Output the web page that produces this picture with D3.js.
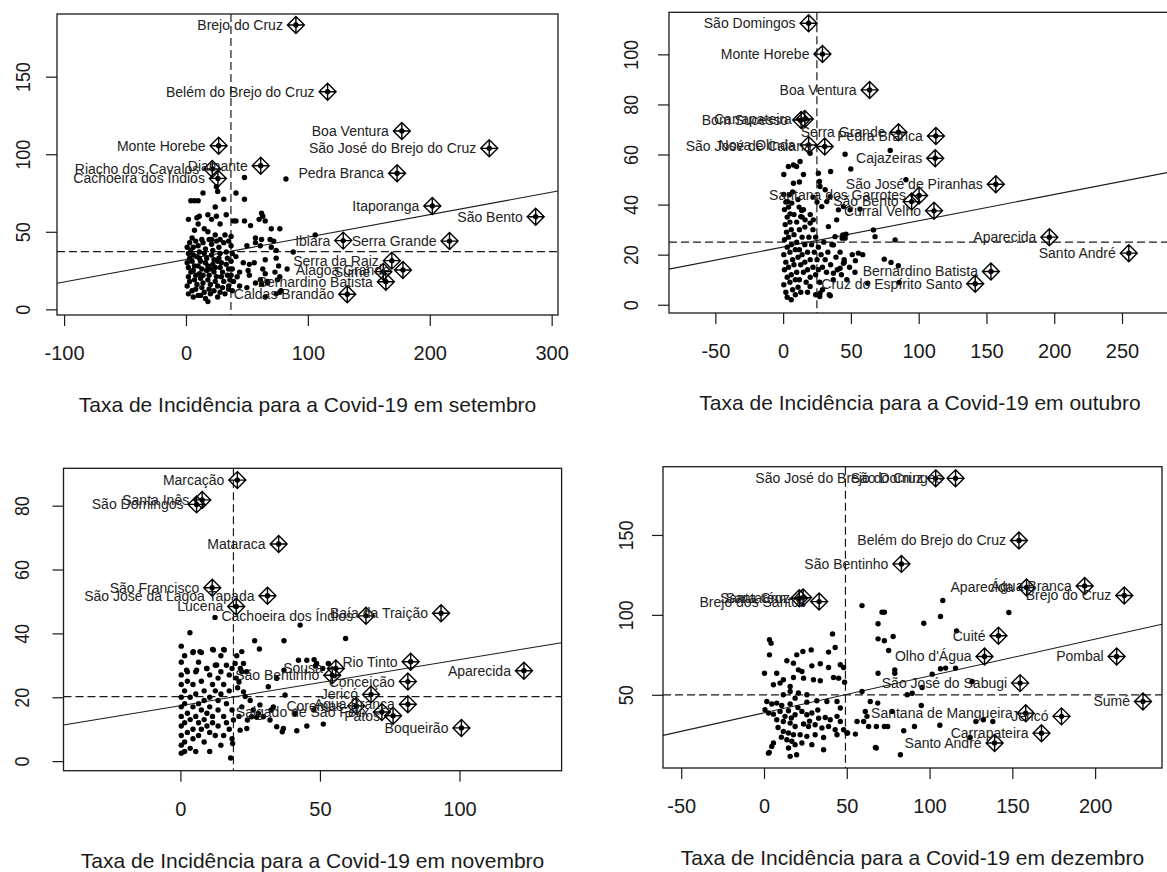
<!DOCTYPE html>
<html lang="pt">
<head>
<meta charset="UTF-8">
<title>Moran - Taxa de Incidência Covid-19</title>
<script src="https://cdn.jsdelivr.net/npm/d3@7"></script>
<style>
  html, body { margin: 0; padding: 0; background: #fff; }
  svg { display: block; font-family: "Liberation Sans", Arial, sans-serif; }
</style>
</head>
<body>
<svg id="chart" width="1167" height="872"></svg>
<script>
// ---------- setembro ----------
const sepPoints = [
  [48,85],[82,84],[25,79],[26,76],[14,75],[41,75],[48,71],[31,71],[4,70],[7,70],[10,70],[24,66],[33,61],
  [39,57],[41,57],[48,57],[53,54],[62,62],[63,60],[65,57],[70,52],[77,52],[60,58],
  [2,58],[9,59],[11,60],[18,61],[21,58],[25,60],[28,55],[10,55],[7,51],[15,52],[18,50],[24,48],[32,48],
  [37,47],[5,46],[13,45],[21,45],[28,45],[35,44],
  [57,46],[62,45],[69,45],[72,44],[57,43],[50,41],[61,41],[70,40],[74,38],[88,37],[83,26],[75,19],[77,11],
  [67,17],[106,48],
  [41,34],[47,30],[52,29],[56,30],[65,32],[74,33],[76,28],[44,24],[51,25],[63,26],[65,23],[73,24],[77,21],
  [52,22],[61,19],[67,18],[57,17],[62,16],[42,21],[44,15],[50,14],[74,10],[78,12],[65,8],
  [18,5],[26,8],[35,15],[32,10],[10,9],
  [1,40],[2,36],[3,33],[1,30],[2,27],[4,24],[2,21],[3,18],[1,15],[5,12],[4,38],[6,35],[5,31],[7,28],[6,25],
  [8,22],[7,19],[9,16],[8,13],[10,41],[11,37],[9,34],[12,31],[10,28],[13,26],[11,23],[12,20],[14,17],[13,14],
  [15,11],[16,39],[15,36],[17,33],[16,30],[18,28],[17,25],[19,22],[18,19],[20,16],[19,13],[21,42],[22,38],
  [21,35],[23,32],[22,29],[24,27],[23,24],[25,21],[24,18],[26,15],[27,40],[28,36],[27,33],[29,30],[28,27],
  [30,24],[29,21],[31,18],[30,14],[33,37],[34,33],[33,29],[35,26],[34,22],[36,19],[35,13],[3,43],[8,44],
  [14,43],[19,45],[25,44],[31,43],[37,41],[38,36],[37,31],[38,26],[37,22],[39,18],[12,9],[20,10],[6,8],
  [16,7],[23,12],[28,11],[2,10],[38,12],[14,22],[20,26],[26,31],[11,33],[6,40]
];
const sepLabeled = [
  ["Brejo do Cruz", 90.2, 183.3], ["Belém do Brejo do Cruz", 116.2, 140.3], ["Boa Ventura", 177.1, 115.0],
  ["São José do Brejo do Cruz", 248.8, 103.8], ["Monte Horebe", 26.8, 105.5], ["Diamante", 61.3, 92.6],
  ["Riacho dos Cavalos", 21.6, 90.5], ["Cachoeira dos Índios", 26.2, 84.4], ["Pedra Branca", 173.2, 87.7],
  ["Itaporanga", 202.1, 66.6], ["São Bento", 286.9, 59.7], ["Ibiara", 129.0, 44.3],
  ["Serra Grande", 216.2, 44.0], ["Serra da Raiz", 168.9, 31.4], ["Alagoa Grande", 178.0, 25.4],
  ["Sumé", 161.9, 24.3], ["Bernardino Batista", 164.0, 17.8], ["Caldas Brandão", 132.3, 9.7]
];
const sepMeans = [36.9, 37.2];
const sepFit = [32.1, 0.1448];
const sepXDomain = [-105.8, 305.2];
const sepYDomain = [-3.65, 190.4];
const sepXTicks = [-100, 0, 100, 200, 300];
const sepYTicks = [0, 50, 100, 150];

// ---------- outubro ----------
const outPoints = [
  [19.9,60.5],[12.5,57.2],[7.6,55.8],[3.9,55.2],[0.5,52],[15,52],[26,52.5],[35,53.2],[45.7,60.1],[49.9,54.2],
  [79,61.6],[90.6,49.9],[9.9,55.2],
  [7.6,48.5],[12,49],[26.8,49.2],[27.2,47.2],[31,45.9],[4.6,43.9],[3.4,41.2],[6.4,40.6],[11.8,39],[13.7,37.6],
  [5.1,36.3],[13,35.2],[16.2,33.9],[19.9,32.6],[22.3,33.9],[33.4,31.2],[39.5,33.9],[40.8,37.9],[44.5,39.2],
  [49.4,37.9],[56.7,38.2],[28.5,39.2],[32.2,41.2],[34.6,43.2],
  [38.3,27.2],[44,27.9],[45.7,26.6],[66.6,29.9],[67.8,27.2],[82.6,25.9],[37.1,23.9],[46.4,28.2],[43.6,26.6],
  [0.5,44],[2,41],[1,38],[3,35],[1.5,32],[2.5,29],[1,26],[3,23],[0.5,20],[2,17],[1,14],[3,11],[0.5,8],[2,5],
  [4,39],[5,33],[4,27],[5,21],[4,15],[5,9],[6,30],[6,24],[7,18],[6,12],[7,6],[8,36],[8,28],[9,22],[8,16],
  [9,10],[10,33],[10,25],[11,19],[10,13],[11,7],[12,30],[12,22],[13,16],[12,10],[14,27],[14,20],[15,13],
  [14,35],[16,24],[16,17],[17,9],[16,31],[18,21],[18,14],[19,27],[20,18],[20,11],[21,24],[22,15],[22,30],
  [23,21],[24,12],[24,27],[25,18],[26,23],[26,14],[27,9],[28,20],[29,15],[30,25],[31,18],[32,13],[33,21],
  [35,16],[36,24],[37,10],[39,19],[40,14],[42,21],[43,12],[45,17],[47,10],[49,15],[51,20],[53,13],[3,3],
  [6,2],[9,4],[13,5],[18,5],[24,4],[29,6],[34,4],[15,38],[20,36],[11,42],[7,45],[25,41],[22,43],
  [55.5,20.6],[58.7,20],[44.5,16.6],[42,14.6],[37.1,12.6],[74.6,18.2],[79.6,16.9],[85,15.6],[53.3,17.6],
  [45,18],[62.4,8.6],[85.6,8.9],[27,3.3],[34.8,3.6],[27.2,4.6],[19.9,7.3]
];
const outLabeled = [
  ["São Domingos", 18.8, 112.4], ["Monte Horebe", 29.0, 100.1], ["Boa Ventura", 63.8, 85.8],
  ["Carrapateira", 16.0, 74.2], ["Bom Sucesso", 13.3, 73.8], ["Serra Grande", 85.1, 68.9],
  ["Pedra Branca", 112.7, 67.4], ["Nova Olinda", 18.8, 63.8], ["São José de Caiana", 30.7, 63.2],
  ["Cajazeiras", 112.2, 58.5], ["São José de Piranhas", 156.9, 48.1], ["Santana dos Garrotes", 100.3, 43.6],
  ["São Bento", 94.8, 41.2], ["Curral Velho", 111.3, 37.5], ["Aparecida", 196.4, 27.0],
  ["Santo André", 255.0, 20.6], ["Bernardino Batista", 153.3, 13.3], ["Cruz do Espírito Santo", 141.7, 8.4]
];
const outMeans = [24.9, 25.0];
const outFit = [23.05, 0.105];
const outXDomain = [-84.2, 285.4];
const outYDomain = [-3.3, 116.8];
const outXTicks = [-50, 0, 50, 100, 150, 200, 250];
const outYTicks = [0, 20, 40, 60, 80, 100];

// ---------- novembro ----------
const novPoints = [
  [0.3,36],[0.3,31],[0.3,27],[0.3,24],[0.3,20],[0.3,17],[0.3,14],[0.3,11],[0.3,8],[0.3,5],[0.3,2.5],
  [1.5,33],[1.5,22],[1.5,18],[1.5,12],[1.5,6],[1.5,3],[2.5,28],[2.5,25],[2.5,15],[2.5,9],
  [3.5,20],[3.5,13],[3.5,4],[4.5,34],[4.5,24],[4.5,17],[4.5,10],[4.5,7],[5.5,28],[5.5,21],[5.5,14],[5.5,3],
  [6.5,31],[6.5,18],[6.5,12],[6.5,8],[7.5,34],[7.5,25],[7.5,16],[7.5,10],[8.5,22],[8.5,19],[8.5,13],[8.5,6],
  [9.5,29],[9.5,15],[9.5,11],[10.5,27],[10.5,20],[10.5,17],[10.5,9],[10.5,3],[11.5,35],[11.5,24],[11.5,14],
  [11.5,12],[12.5,30],[12.5,22],[12.5,8],[13.5,26],[13.5,19],[13.5,16],[13.5,11],[14.5,33],[14.5,28],
  [14.5,21],[14.5,5],[15.5,35],[15.5,24],[15.5,14],[15.5,8],[16.5,30],[16.5,18],[16.5,12],[17.5,27],
  [17.5,22],[17.5,10],[18.5,29],[18.5,16],[18.5,7],[18,1],[18.7,5.5],
  [20,26],[20.5,23],[21,24.8],[21.5,29],[22,28],[22.6,21.7],[23.2,20.2],[22,17],[19.6,30.6],[22.6,30.6],
  [23.7,28],[20.2,33],[22,34.3],[21,14],[24,12.9],[23.8,10.2],[21.4,9.7],[19,12.9],[25.5,13.9],[27.3,13.7],
  [29.7,13.9],[32.1,12.9],[34.5,10.8],[36.9,10.2],[41.7,9.5],[45.3,11],[51.2,11.6],[26.1,16],[33.3,17],
  [28.5,17.6],[27.9,14.9],[32.5,16],[41.1,14.9],[47.8,16],[36.5,9.2],[25,19],[26.6,37.7],[28.3,35.1],
  [37.1,37.7],[42.9,42.6],[59.2,38.4],[12.4,45],[3.4,40.2],[42.3,31.6],[45.3,31.6],[47.9,31.8],[48.8,30.6],
  [53,30.6],[37.1,28.5],[34.5,25.9],[31.5,23.3],[37.5,20.7],[48.4,29.8],[51,29],[4.6,34.3],[7,34.3],
  [11.8,34.8],[15.7,34.8],[2.2,28.5],[5.8,28.5],[9.4,29],[13,30.1]
];
const novLabeled = [
  ["Marcação", 20.4, 88.0], ["Santa Inês", 7.8, 81.8], ["São Domingos", 5.8, 80.4], ["Mataraca", 35.2, 68.0],
  ["São Francisco", 11.4, 54.3], ["São José da Lagoa Tapada", 31.2, 51.8], ["Lucena", 20.0, 48.4],
  ["Cachoeira dos Índios", 66.5, 45.5], ["Baía da Traição", 93.4, 46.3], ["Rio Tinto", 82.5, 31.1],
  ["Aparecida", 123.1, 28.3], ["Sousa", 55.7, 29.0], ["São Bentinho", 54.4, 26.9], ["Conceição", 81.5, 24.9],
  ["Jericó", 68.3, 20.9], ["Coremas", 63.0, 17.3], ["Água Branca", 81.5, 17.8],
  ["Salgado de São Félix", 72.2, 15.4], ["Patos", 76.2, 14.2], ["Boqueirão", 100.7, 10.4]
];
const novMeans = [19.0, 20.2];
const novFit = [17.35, 0.1445];
const novXDomain = [-41.9, 136.6];
const novYDomain = [-3.0, 91.7];
const novXTicks = [0, 50, 100];
const novYTicks = [0, 20, 40, 60, 80];

// ---------- dezembro ----------
const dezPoints = [
  [59.2,105.8],[71.3,101.7],[72.7,101.7],[68.9,94.4],[96.5,94.8],[106.6,99],[108,109],[68.9,85],[72.7,83.8],
  [78,86.5],[75.3,77.7],[79,65.6],[79,63.5],[68.9,63.5],[101.6,62.9],[106.6,66.3],[109.7,66.7],[115.7,66.7],
  [116.3,90],[95.5,54.6],[86.5,50],[89.5,51],[59.2,52.1],[147.9,101.5],[125.7,58.3],[132.5,34.4],[128,33.3],
  [138.2,33.3],[124.5,23.3],
  [64.2,45.8],[68.7,44.8],[61.2,39.6],[62.2,36.5],[77.4,39.6],[60.2,33.3],[63.2,30.2],[67.9,30.2],[72.7,30.2],
  [74.7,30.2],[84.4,27.5],[90.9,30.2],[95,43.3],[106.2,30.9],[56.2,33.3],[55.2,25.4],[50.5,26.1],[67.3,17.1],
  [82.4,12.5],
  [3.3,84.4],[4.3,82.3],[3.3,75],[41.4,88.1],[23.5,77.1],[28.5,78.1],[19.8,75],[43,79.6],[39,76.7],[13.8,71.3],
  [17.8,69.8],[28.9,68.1],[34,69.4],[39,67.1],[46.1,68.8],[48.1,67.1],[20.8,65.6],[22.9,64.6],[0.3,63.5],
  [7.7,63.5],[11.7,59.4],[17.8,60.8],[23.9,60.4],[29.9,59.4],[34,58.8],[42,60.8],[45.1,60.4],[48.7,57.9],
  [5.7,56.3],[9.7,57.3],[15.8,55.2],[15.8,52.1],[20.8,51.1],[25.9,50],[18.8,47.9],[11.7,50],[1.7,45.8],
  [4.7,44.2],[7.7,44.8],[10.7,43.3],[15.8,44.2],[25.9,45.4],[31.9,46.3],[38,45.8],[44.1,45.8],[46.1,41.7],
  [0.6,40.6],[2.7,38.6],[5.7,37.9],[9.7,39.6],[14.8,40],[18.8,37.5],[22.9,39.6],[25.9,37.5],[28.9,38.6],
  [33,35.4],[37,35.8],[40,34.4],[44.1,36.5],[46.1,33.3],[7.7,34.4],[11.7,33.3],[15.8,32.3],[18.8,30.2],
  [23.9,31.7],[26.9,30.2],[30.9,31.3],[35,29.2],[39,30.2],[43,28.1],[48.1,28.1],[11.7,27.1],[14.8,26.1],
  [17.8,25],[21.8,25],[25.9,24],[30.9,25],[36,23.3],[44.1,25],[50.1,26.1],[13.8,21.9],[16.8,20.9],[18.8,18.8],
  [22.9,19.8],[28.9,18.8],[5.7,19.8],[4.7,17.7],[14.8,16.7],[36,15.6],[2.7,13.5],[15.8,11.5],[3.2,14],
  [19.7,12.5],[67.8,16.7],[12.7,36.5],[20.5,42],[8.5,29.5],[16.5,35.5],[27.5,33.5],[32.5,40.5],[10.5,23.5]
];
const dezLabeled = [
  ["São José do Brejo do Cruz", 103.7, 185.4], ["São Domingos", 115.7, 185.4],
  ["Belém do Brejo do Cruz", 154.0, 146.5], ["São Bentinho", 83.0, 131.9], ["Santarém", 21.3, 110.4],
  ["Santa Cruz", 23.6, 110.8], ["Brejo dos Santos", 33.3, 108.3], ["Aparecida", 158.6, 117.1],
  ["Água Branca", 193.7, 118.1], ["Brejo do Cruz", 217.6, 112.1], ["Cuité", 141.6, 86.9],
  ["Olho d'Água", 133.2, 74.0], ["Pombal", 213.0, 74.0], ["São José do Sabugi", 154.7, 57.3],
  ["Sumé", 228.9, 45.8], ["Santana de Mangueira", 158.1, 38.5], ["Jericó", 179.7, 36.5],
  ["Carrapateira", 167.6, 26.0], ["Santo André", 139.3, 19.8]
];
const dezMeans = [49.2, 50.0];
const dezFit = [38.7, 0.2308];
const dezXDomain = [-61.0, 240.4];
const dezYDomain = [4.2, 192.7];
const dezXTicks = [-50, 0, 50, 100, 150, 200];
const dezYTicks = [50, 100, 150];

const months = ["setembro", "outubro", "novembro", "dezembro"];

const panels = [
  { pts: sepPoints, lab: sepLabeled, means: sepMeans, fit: sepFit, xd: sepXDomain, yd: sepYDomain, xt: sepXTicks, yt: sepYTicks,
    box: [57, 558, 14, 315], ylabX: 22.5 },
  { pts: outPoints, lab: outLabeled, means: outMeans, fit: outFit, xd: outXDomain, yd: outYDomain, xt: outXTicks, yt: outYTicks,
    box: [669, 1170, 12.3, 313], ylabX: 631 },
  { pts: novPoints, lab: novLabeled, means: novMeans, fit: novFit, xd: novXDomain, yd: novYDomain, xt: novXTicks, yt: novYTicks,
    box: [63.5, 561.6, 468.3, 770.7], ylabX: 22 },
  { pts: dezPoints, lab: dezLabeled, means: dezMeans, fit: dezFit, xd: dezXDomain, yd: dezYDomain, xt: dezXTicks, yt: dezYTicks,
    box: [663, 1162, 466.7, 768], ylabX: 626 }
];

const svg = d3.select("#chart");
const ink = "#1a1a1a";

function drawPanel(p, i) {
  const [x0, x1, y0, y1] = p.box;
  const x = d3.scaleLinear().domain(p.xd).range([x0, x1]);
  const y = d3.scaleLinear().domain(p.yd).range([y1, y0]);

  const clipId = "clip" + i;
  svg.append("clipPath").attr("id", clipId)
    .append("rect").attr("x", x0).attr("y", y0).attr("width", x1 - x0).attr("height", y1 - y0);

  const g = svg.append("g");
  const plot = g.append("g").attr("clip-path", `url(#${clipId})`);

  // fitted line
  plot.append("line")
    .attr("x1", x(p.xd[0])).attr("y1", y(p.fit[0] + p.fit[1] * p.xd[0]))
    .attr("x2", x(p.xd[1])).attr("y2", y(p.fit[0] + p.fit[1] * p.xd[1]))
    .attr("stroke", ink).attr("stroke-width", 1.1);

  // mean lines
  plot.append("line")
    .attr("x1", x(p.means[0])).attr("x2", x(p.means[0]))
    .attr("y1", y0).attr("y2", y1)
    .attr("stroke", ink).attr("stroke-width", 1.2).attr("stroke-dasharray", "8,4");
  plot.append("line")
    .attr("x1", x0).attr("x2", x1)
    .attr("y1", y(p.means[1])).attr("y2", y(p.means[1]))
    .attr("stroke", ink).attr("stroke-width", 1.2).attr("stroke-dasharray", "8,4");

  // points
  plot.selectAll("circle.pt")
    .data(p.pts)
    .enter()
    .append("circle")
    .attr("class", "pt")
    .attr("cx", d => x(d[0]))
    .attr("cy", d => y(d[1]))
    .attr("r", 2.7)
    .attr("fill", "#000");

  // influential points (diamond with plus)
  const s = 8.5;
  const inf = plot.selectAll("g.inf")
    .data(p.lab)
    .enter()
    .append("g")
    .attr("class", "inf")
    .attr("transform", d => `translate(${x(d[1])},${y(d[2])})`);
  inf.append("path")
    .attr("d", `M0,${-s}L${s},0L0,${s}L${-s},0Z M0,${-s}V${s} M${-s},0H${s}`)
    .attr("fill", "none").attr("stroke", "#000").attr("stroke-width", 1.4);
  inf.append("circle").attr("r", 2.7).attr("fill", "#000");

  // labels
  plot.selectAll("text.lab")
    .data(p.lab)
    .enter()
    .append("text")
    .attr("class", "lab")
    .attr("x", d => x(d[1]) - 13)
    .attr("y", d => y(d[2]))
    .attr("dy", "0.35em")
    .attr("text-anchor", "end")
    .attr("font-size", 14)
    .attr("fill", "#222")
    .text(d => d[0]);

  // box
  g.append("rect")
    .attr("x", x0).attr("y", y0).attr("width", x1 - x0).attr("height", y1 - y0)
    .attr("fill", "none").attr("stroke", ink).attr("stroke-width", 1.3);

  // x axis
  const xa = g.append("g")
    .attr("transform", `translate(0,${y1})`)
    .call(d3.axisBottom(x).tickValues(p.xt).tickSize(11).tickFormat(d => String(d)));
  xa.select(".domain").remove();
  xa.selectAll("line").attr("stroke", ink).attr("stroke-width", 1.2);
  xa.selectAll("text")
    .attr("y", 38).attr("dy", "0.35em")
    .attr("font-size", 20).attr("font-family", "Liberation Sans, Arial, sans-serif").attr("fill", ink);

  // y axis
  const ya = g.append("g")
    .attr("transform", `translate(${x0},0)`)
    .call(d3.axisLeft(y).tickValues(p.yt).tickSize(11).tickFormat(d => String(d)));
  ya.select(".domain").remove();
  ya.selectAll("line").attr("stroke", ink).attr("stroke-width", 1.2);
  ya.selectAll("text")
    .attr("x", null)
    .attr("text-anchor", "middle")
    .attr("transform", `translate(${p.ylabX - x0},0) rotate(-90) scale(0.85,1)`)
    .attr("y", 0).attr("dy", "0.35em")
    .attr("font-size", 21).attr("font-family", "Liberation Sans, Arial, sans-serif").attr("fill", ink);

  // x title
  g.append("text")
    .attr("x", (x0 + Math.min(x1, 1167)) / 2 + (i === 1 ? 2 : 0))
    .attr("y", y1 + 97)
    .attr("text-anchor", "middle")
    .attr("font-size", 21)
    .attr("fill", ink)
    .text(`Taxa de Incidência para a Covid-19 em ${months[i]}`);
}

panels.forEach(drawPanel);
</script>
</body>
</html>
